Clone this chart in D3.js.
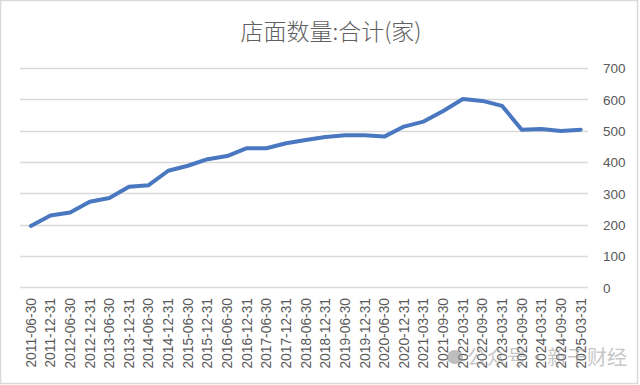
<!DOCTYPE html>
<html><head><meta charset="utf-8">
<script src="https://cdn.jsdelivr.net/npm/d3@7"></script>
<style>html,body{margin:0;padding:0;background:#fff;}svg{display:block;}</style>
</head><body>
<svg id="c" width="640" height="385"></svg>
<script>
const title = "店面数量:合计(家)";
const dates = ["2011-06-30","2011-12-31","2012-06-30","2012-12-31","2013-06-30","2013-12-31","2014-06-30","2014-12-31","2015-06-30","2015-12-31","2016-06-30","2016-12-31","2017-06-30","2017-12-31","2018-06-30","2018-12-31","2019-06-30","2019-12-31","2020-06-30","2020-12-31","2021-03-31","2021-09-30","2022-03-31","2022-09-30","2023-03-31","2023-09-30","2024-03-31","2024-09-30","2025-03-31"];
const stores = [196,229,239,273,285,321,326,372,388,409,419,444,444,460,470,480,485,485,481,513,529,563,601,595,579,503,505,499,503];
const yTicks = [0,100,200,300,400,500,600,700];

const svg = d3.select("#c");
svg.append("rect").attr("x",0.5).attr("y",0.5).attr("width",637).attr("height",383)
  .attr("fill","#fff").attr("stroke","#d9d9d9").attr("stroke-width",1.5);

const x = d3.scaleBand().domain(dates).range([21, 590.5]);
const y = d3.scaleLinear().domain([0,700]).range([287.3, 68]);

// gridlines
svg.append("g").selectAll("line").data(yTicks).join("line")
  .attr("x1",20).attr("x2",588)
  .attr("y1",d=>Math.round(y(d))+0.5).attr("y2",d=>Math.round(y(d))+0.5)
  .attr("stroke","#d9d9d9").attr("stroke-width",1.3);

// right axis labels
const yAxis = d3.axisRight(y).tickValues(yTicks).tickSize(0).tickPadding(0);
const ga = svg.append("g").attr("transform","translate(603,0)").call(yAxis);
ga.select(".domain").remove();
ga.selectAll("text").attr("font-family","Liberation Sans, Arial, sans-serif")
  .attr("font-size",13.5).attr("fill","#595959").attr("text-anchor","start").attr("dy","0.35em");

// x axis labels
const xAxis = d3.axisBottom(x).tickSize(0).tickPadding(0);
const gx = svg.append("g").attr("transform","translate(0,297)").call(xAxis);
gx.select(".domain").remove();
gx.selectAll("text").attr("font-family","Liberation Sans, Arial, sans-serif")
  .attr("font-size",13.8).attr("fill","#595959")
  .attr("transform","rotate(-90)").attr("text-anchor","end")
  .attr("x",-1).attr("y",0).attr("dy","0.35em");

// line
const line = d3.line().x((d,i)=>x(dates[i])+x.bandwidth()/2).y(d=>y(d));
svg.append("path").datum(stores).attr("d",line)
  .attr("fill","none").attr("stroke","#4a78c0").attr("stroke-width",4)
  .attr("stroke-linejoin","round").attr("stroke-linecap","round");

// title
svg.append("text").attr("x",331).attr("y",40).attr("text-anchor","middle")
  .attr("font-family","Noto Sans CJK SC, sans-serif").attr("font-size",23).attr("font-weight",300)
  .attr("fill","#606060").text(title);

// watermark
const wm = svg.append("g").attr("opacity",0.55);
wm.append("ellipse").attr("cx",455).attr("cy",357).attr("rx",8).attr("ry",7).attr("fill","#8a8a8a");
wm.append("text").attr("x",467).attr("y",365).attr("font-family","Noto Sans CJK SC, sans-serif")
  .attr("font-size",20).attr("fill","#9a9a9a").text("公众号·新干财经");
</script>
</body></html>
